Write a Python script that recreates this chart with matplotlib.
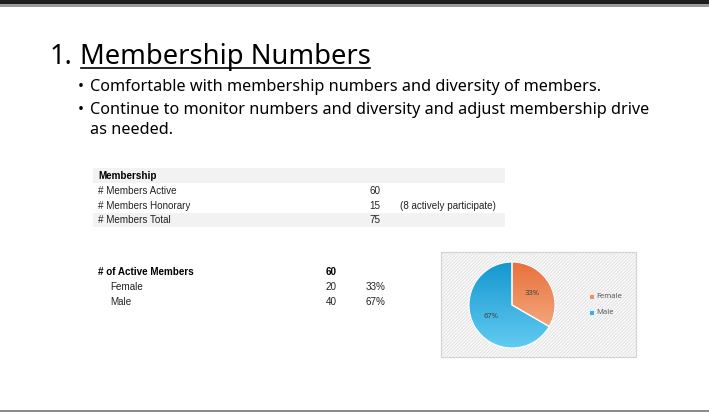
import matplotlib.pyplot as plt
import numpy as np
from matplotlib.patches import Rectangle

# --- data ---
title_num = "1."
title_text = "Membership Numbers"
bullets = [
    ["Comfortable with membership numbers and diversity of members."],
    ["Continue to monitor numbers and diversity and adjust membership drive",
     "as needed."],
]

member_header = "Membership"
member_labels = ["# Members Active", "# Members Honorary", "# Members Total"]
member_values = [60, 15, 75]
member_notes = ["", "(8 actively participate)", ""]

active_header = "# of Active Members"
active_total = 60
genders = ["Female", "Male"]
gender_counts = [20, 40]
gender_pcts = ["33%", "67%"]

pie_colors_top = ["#E8713A", "#1697CF"]
pie_colors_bot = ["#F6B893", "#62CBF2"]

W, H = 709, 412
fig = plt.figure(figsize=(W / 100, H / 100), dpi=100)
ax = fig.add_axes([0, 0, 1, 1])
ax.set_xlim(0, W)
ax.set_ylim(H, 0)
ax.axis('off')

# slide frame lines
ax.add_patch(Rectangle((0, 0), W, 3.5, color='#1c1f1c', lw=0))
ax.add_patch(Rectangle((0, 3.5), W, 3, color='#9a9a9a', lw=0))
ax.add_patch(Rectangle((0, 409.5), W, 3, color='#8a8a8a', lw=0))

font = 'Noto Sans'

# title
ax.text(50, 57, title_num, fontsize=19.7, family=font, va='center', ha='left', color='black')
t = ax.text(80, 57, title_text, fontsize=19.7, family=font, va='center', ha='left', color='black')
fig.canvas.draw()
bb = t.get_window_extent().transformed(ax.transData.inverted())
ax.plot([bb.x0 + 1, bb.x1 - 1], [67.5, 67.5], color='black', lw=1.2)

# bullets
ys = [[87], [110, 130]]
for lines, yl in zip(bullets, ys):
    ax.text(78, yl[0], "\u2022", fontsize=11.5, family=font, va='center', color='black')
    for line, y in zip(lines, yl):
        ax.text(90, y, line, fontsize=11.7, family=font, va='center', color='black')

# --- membership table ---
tfont = ['Liberation Sans', 'DejaVu Sans']
fs = 7.1
ax.add_patch(Rectangle((93, 168), 412, 14.5, color='#f2f2f2', lw=0))
ax.add_patch(Rectangle((93, 212.5), 412, 14.5, color='#f2f2f2', lw=0))
ax.text(98, 175.5, member_header, fontsize=fs, family=tfont, weight='bold', va='center')
row_y = [191, 206, 220]
for y, lab, val, note in zip(row_y, member_labels, member_values, member_notes):
    ax.text(98, y, lab, fontsize=fs, family=tfont, va='center', color='#222222')
    ax.text(380, y, str(val), fontsize=fs, family=tfont, va='center', ha='right',
            color='#222222')
    if note:
        ax.text(400, y, note, fontsize=fs, family=tfont, va='center', color='#222222')

# --- active members table ---
ax.text(98, 272, active_header, fontsize=fs, family=tfont, weight='bold', va='center')
ax.text(337, 272, str(active_total), fontsize=fs, family=tfont, weight='bold',
        va='center', ha='right')
for y, g, c, p in zip([287, 302], genders, gender_counts, gender_pcts):
    ax.text(110, y, g, fontsize=fs, family=tfont, va='center', color='#222222')
    ax.text(337, y, str(c), fontsize=fs, family=tfont, va='center', ha='right',
            color='#222222')
    ax.text(385, y, p, fontsize=fs, family=tfont, va='center', ha='right', color='#222222')

# chart box with hatched background
ax.add_patch(Rectangle((441, 252), 195, 105, facecolor='white', edgecolor='#d9d9d9',
                       lw=0.8))
ax.add_patch(Rectangle((441, 252), 195, 105, facecolor='none', edgecolor='#e6e6e6',
                       hatch='//////////', lw=0))
ax.add_patch(Rectangle((441, 252), 195, 105, facecolor='none', edgecolor='#d4d4d4',
                       lw=0.8))

# legend
for y, g, col in zip([296.5, 312.5], genders, ["#EE9062", "#33B1E6"]):
    ax.add_patch(Rectangle((589.5, y - 2), 4, 4, color=col, lw=0))
    ax.text(596.5, y, g, fontsize=5.5, family=font, va='center', color='#595959')

# --- pie ---
cx, cy, r = 512, 305, 43
pax = fig.add_axes([(cx - r) / W, (H - cy - r) / H, 2 * r / W, 2 * r / H])
wedges, _ = pax.pie(gender_counts, startangle=90, counterclock=False, radius=1,
                    colors=pie_colors_top, wedgeprops=dict(edgecolor='white', lw=0.8))
pax.set_xlim(-1, 1)
pax.set_ylim(-1, 1)
pax.set_aspect('equal')
pax.axis('off')

# vertical gradient fill in each wedge
yy = np.linspace(1, -1, 200)[:, None] * np.ones((1, 2))
for w, ctop, cbot in zip(wedges, pie_colors_top, pie_colors_bot):
    c1 = np.array(plt.matplotlib.colors.to_rgb(ctop))
    c2 = np.array(plt.matplotlib.colors.to_rgb(cbot))
    tt = (1 - yy[..., None]) / 2
    img = c1 * (1 - tt) + c2 * tt
    im = pax.imshow(img, extent=(-1, 1, -1, 1), origin='upper', zorder=w.get_zorder() + 0.1,
                    aspect='auto')
    im.set_clip_path(w)
for w in wedges:
    w.set_facecolor('none')
    w.set_zorder(5)

# percentage labels
total = sum(gender_counts)
ang = 90.0
for c, p in zip(gender_counts, gender_pcts):
    frac = c / total
    mid = np.deg2rad(ang - frac * 360 / 2)
    ang -= frac * 360
    pax.text(0.55 * np.cos(mid), 0.55 * np.sin(mid), p, fontsize=5.5, family=font,
             ha='center', va='center', color='#404040', zorder=10)

fig.savefig('out.png', dpi=100)
